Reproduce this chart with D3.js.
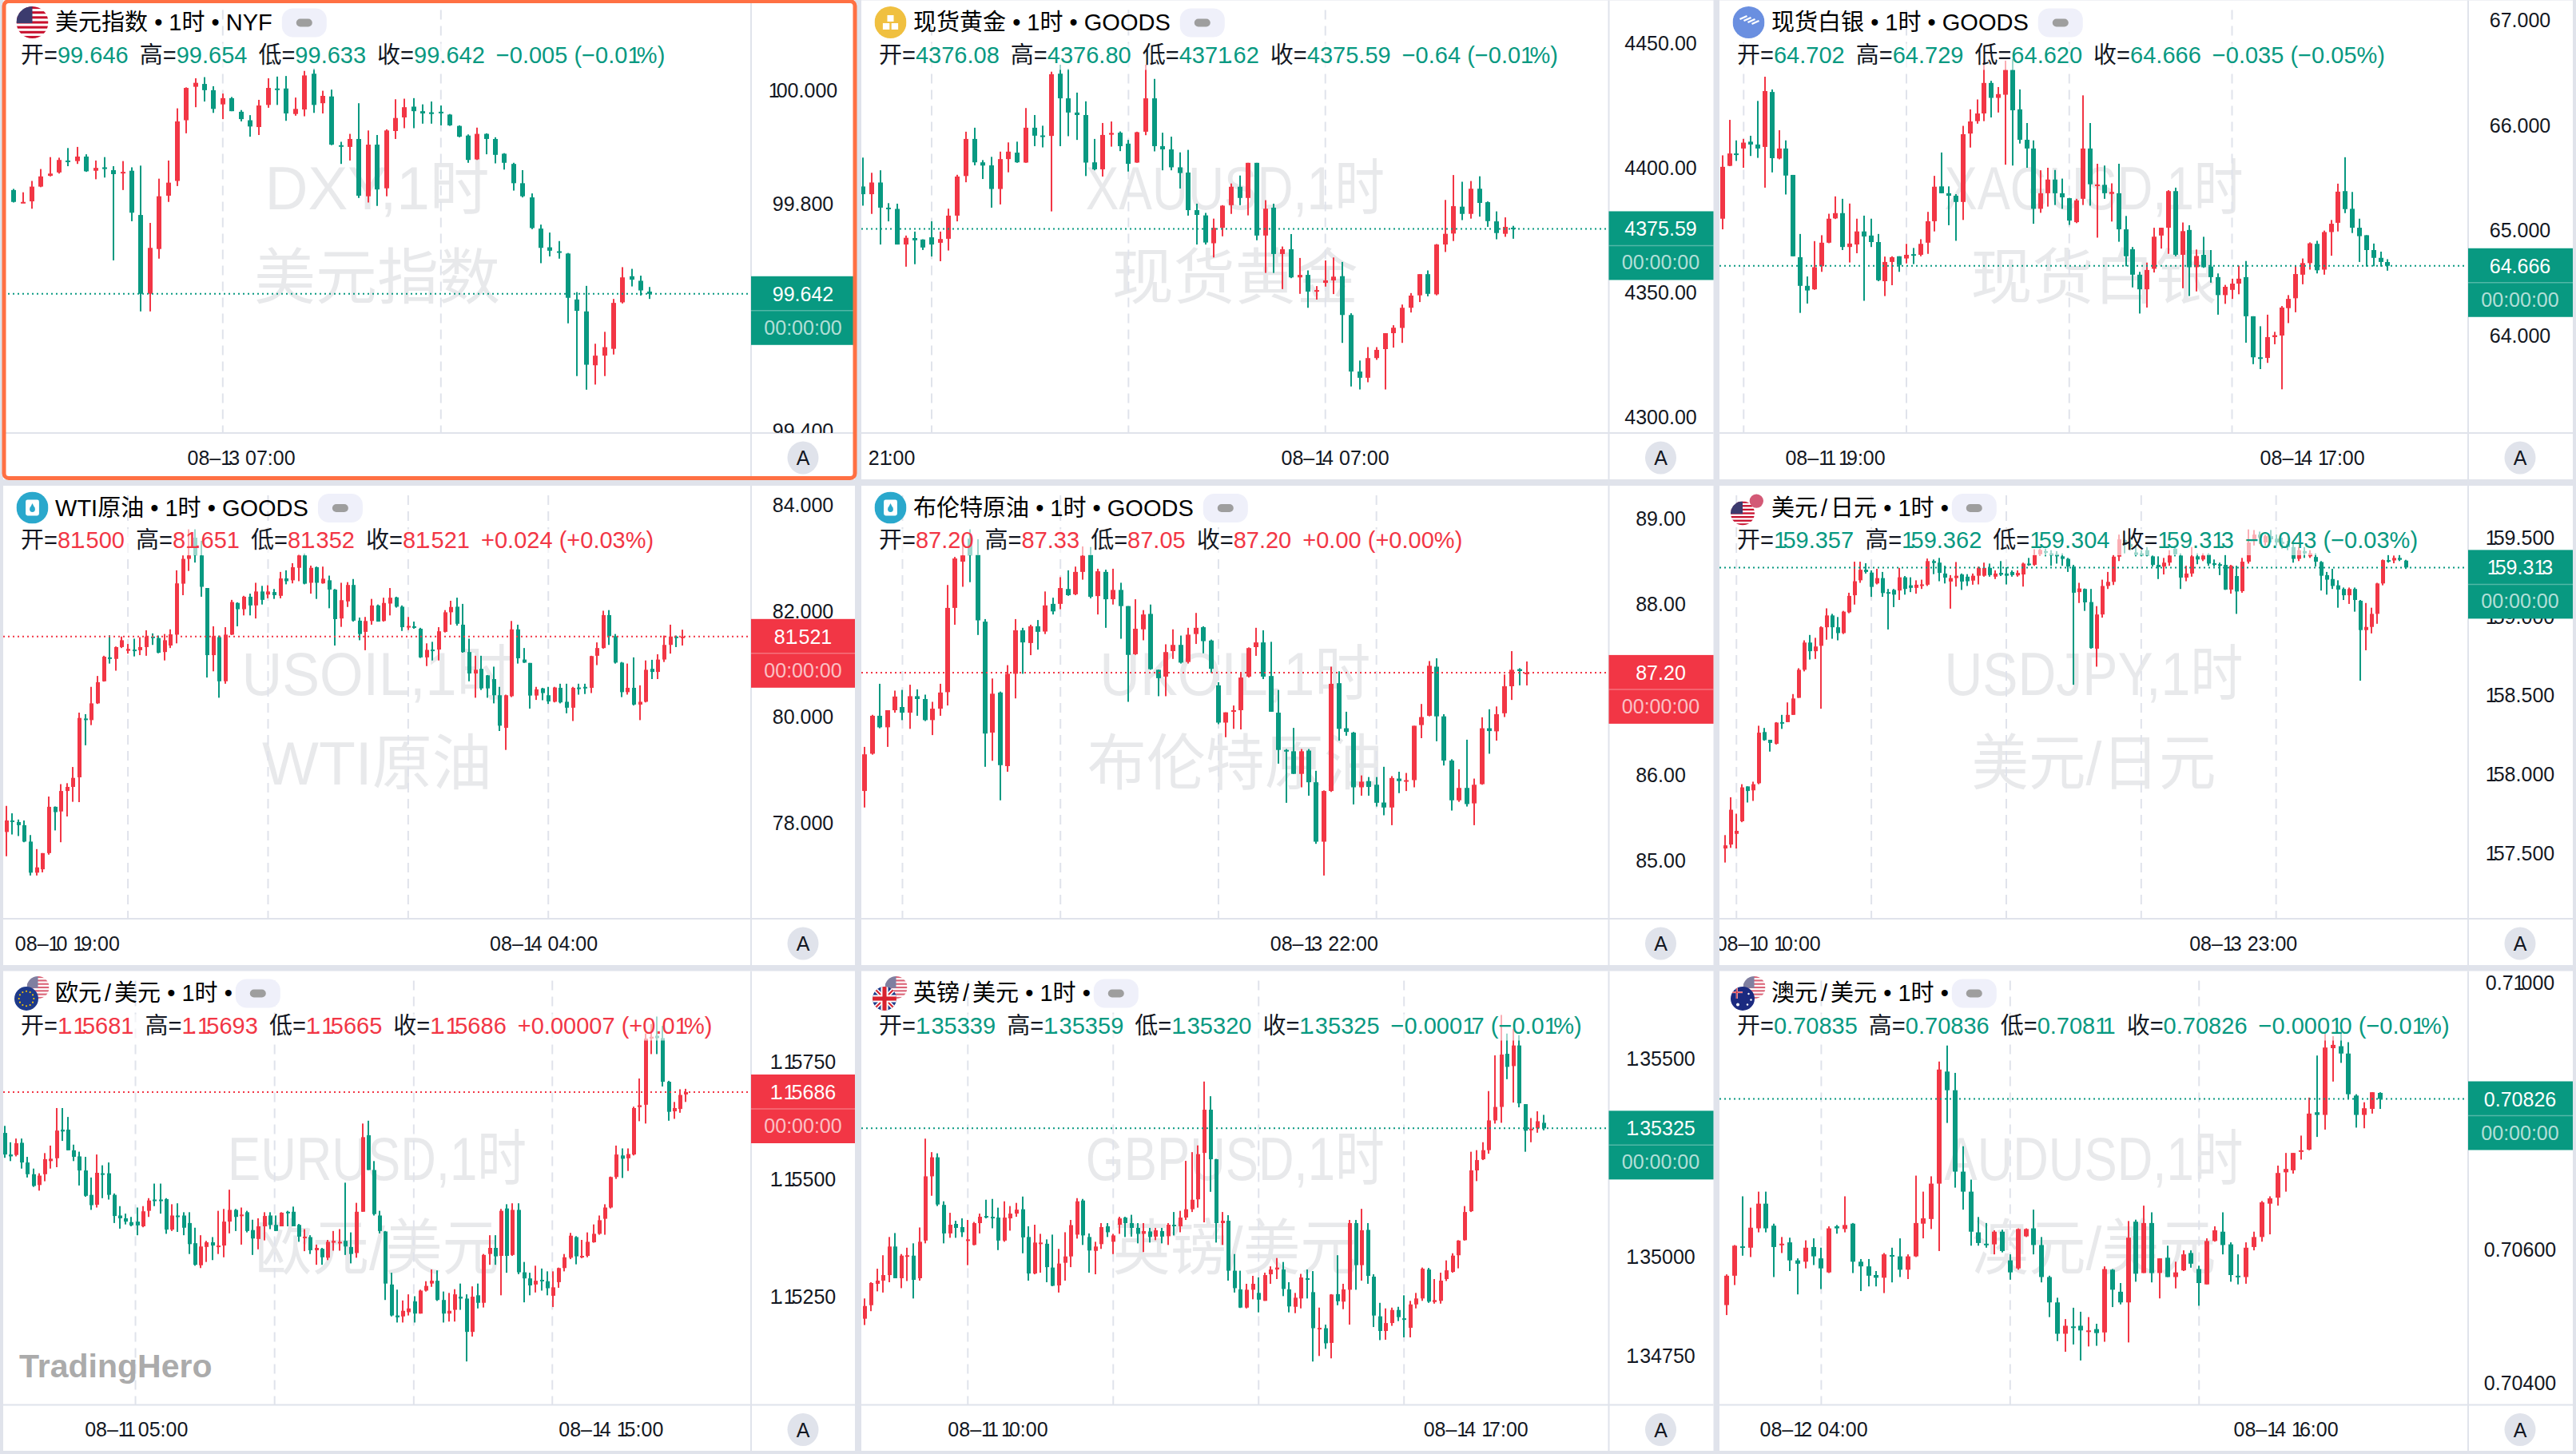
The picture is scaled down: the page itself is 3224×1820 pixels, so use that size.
<!DOCTYPE html>
<html>
<head>
<meta charset="utf-8">
<script src="https://cdn.jsdelivr.net/npm/d3@7/dist/d3.min.js"></script>
<style>
html,body{margin:0;padding:0;background:#e0e3eb;}
svg{display:block;}
text{font-family:"Liberation Sans","Noto Sans CJK SC",sans-serif;}
</style>
</head>
<body>
<script>
// rows are [open, high, low, close], oldest first
var dxyOhlc = [[99.825,99.827,99.803,99.804],[99.802,99.821,99.802,99.804],[99.805,99.841,99.792,99.831],[99.831,99.862,99.830,99.849],[99.850,99.883,99.849,99.854],[99.856,99.882,99.854,99.878],[99.877,99.899,99.867,99.875],[99.876,99.901,99.871,99.884],[99.884,99.888,99.857,99.858],[99.859,99.877,99.844,99.864],[99.865,99.883,99.847,99.862],[99.860,99.867,99.701,99.853],[99.855,99.876,99.825,99.857],[99.859,99.865,99.770,99.785],[99.781,99.868,99.611,99.642],[99.642,99.767,99.611,99.723],[99.721,99.845,99.704,99.814],[99.815,99.877,99.804,99.838],[99.841,99.969,99.832,99.946],[99.948,100.006,99.925,100.005],[100.007,100.022,99.971,100.014],[100.012,100.024,99.981,100.001],[100.001,100.008,99.961,99.968],[99.976,99.995,99.950,99.987],[99.987,99.989,99.964,99.964],[99.963,99.966,99.946,99.950],[99.948,99.957,99.919,99.937],[99.936,99.984,99.922,99.974],[99.975,100.022,99.970,100.005],[100.004,100.025,99.975,100.002],[100.004,100.026,99.947,99.960],[99.959,99.988,99.956,99.968],[99.967,100.035,99.955,100.027],[100.030,100.039,99.961,99.975],[99.978,100.000,99.960,99.991],[99.990,100.002,99.904,99.905],[99.904,99.910,99.871,99.902],[99.901,99.924,99.877,99.915],[99.915,99.978,99.811,99.815],[99.814,99.930,99.803,99.905],[99.905,99.922,99.797,99.826],[99.828,99.932,99.814,99.930],[99.929,99.985,99.915,99.952],[99.953,99.986,99.934,99.971],[99.972,99.987,99.934,99.964],[99.964,99.976,99.942,99.960],[99.962,99.981,99.942,99.959],[99.963,99.974,99.939,99.961],[99.958,99.959,99.938,99.939],[99.938,99.939,99.918,99.919],[99.921,99.923,99.873,99.878],[99.879,99.935,99.878,99.924],[99.924,99.925,99.888,99.915],[99.915,99.918,99.872,99.887],[99.889,99.890,99.861,99.873],[99.871,99.873,99.824,99.837],[99.837,99.860,99.812,99.814],[99.812,99.819,99.756,99.758],[99.757,99.764,99.696,99.723],[99.724,99.750,99.708,99.718],[99.717,99.735,99.704,99.716],[99.713,99.714,99.590,99.635],[99.632,99.645,99.497,99.612],[99.611,99.656,99.473,99.517],[99.516,99.554,99.482,99.533],[99.533,99.575,99.497,99.548],[99.545,99.633,99.535,99.626],[99.627,99.689,99.625,99.671],[99.673,99.686,99.655,99.667],[99.665,99.674,99.639,99.648],[99.646,99.654,99.633,99.642]];

var xauOhlc = [[4392.6,4404.2,4384.9,4389.5],[4389.5,4398.1,4381.6,4394.2],[4394.2,4399.1,4369.3,4384.1],[4384.1,4385.9,4378.6,4383.6],[4383.6,4385.7,4369.3,4369.3],[4369.3,4372.9,4360.4,4372.0],[4371.9,4374.5,4361.4,4371.0],[4371.3,4371.4,4367.1,4368.1],[4372.2,4378.6,4364.5,4369.3],[4370.0,4374.5,4362.6,4371.5],[4371.6,4383.7,4366.9,4380.9],[4380.9,4397.3,4378.6,4396.6],[4396.8,4414.6,4394.3,4411.7],[4411.7,4416.2,4401.1,4402.3],[4402.3,4403.2,4395.6,4401.0],[4401.1,4404.5,4384.1,4391.6],[4391.6,4406.6,4385.4,4403.6],[4403.6,4410.3,4398.3,4406.6],[4406.2,4410.6,4402.1,4402.3],[4402.2,4424.1,4402.1,4416.2],[4416.2,4421.3,4408.8,4413.0],[4413.1,4417.0,4408.3,4412.6],[4412.9,4438.7,4382.6,4437.7],[4437.9,4441.5,4408.8,4428.0],[4428.0,4439.8,4412.8,4422.3],[4422.3,4430.3,4411.3,4421.3],[4421.3,4426.8,4396.8,4402.2],[4402.3,4411.7,4399.1,4399.5],[4399.5,4418.1,4396.6,4413.3],[4413.4,4418.7,4408.6,4414.1],[4414.2,4414.7,4406.8,4408.8],[4409.8,4411.3,4398.6,4401.7],[4402.2,4414.6,4402.1,4414.4],[4414.6,4441.5,4413.2,4428.0],[4428.0,4435.8,4406.7,4408.8],[4408.8,4414.2,4399.1,4407.5],[4407.5,4412.6,4399.1,4400.3],[4400.3,4406.3,4391.8,4398.0],[4398.2,4407.3,4380.9,4383.1],[4383.1,4385.7,4369.3,4381.2],[4381.0,4382.0,4369.3,4370.1],[4369.8,4379.7,4364.1,4376.0],[4376.0,4385.1,4372.6,4384.9],[4385.1,4393.8,4381.6,4392.5],[4392.5,4397.0,4385.1,4388.0],[4388.0,4402.1,4381.0,4402.1],[4402.1,4402.1,4371.0,4372.9],[4372.9,4387.1,4357.9,4383.7],[4384.1,4385.7,4357.9,4365.5],[4365.5,4368.5,4351.4,4367.4],[4367.4,4373.5,4355.8,4356.1],[4356.1,4363.9,4349.5,4357.1],[4357.1,4358.9,4343.9,4350.4],[4350.4,4352.6,4347.2,4351.0],[4353.9,4362.9,4352.4,4354.9],[4354.9,4364.1,4349.4,4356.4],[4356.6,4362.3,4329.8,4341.0],[4341.0,4341.7,4312.3,4318.3],[4318.3,4322.7,4311.1,4315.8],[4315.8,4328.1,4314.0,4323.7],[4323.7,4328.1,4323.0,4327.0],[4327.3,4333.7,4311.1,4333.7],[4333.7,4336.9,4327.9,4335.9],[4335.8,4345.2,4329.8,4343.9],[4343.9,4349.8,4342.0,4348.8],[4348.9,4357.4,4346.2,4357.4],[4357.4,4358.9,4348.5,4349.5],[4349.3,4369.5,4348.9,4369.3],[4369.3,4387.2,4366.3,4373.6],[4373.7,4397.2,4370.7,4384.7],[4384.5,4394.5,4379.1,4381.6],[4381.6,4394.8,4379.7,4391.7],[4391.7,4396.7,4380.5,4386.0],[4386.3,4386.6,4376.4,4378.7],[4378.6,4382.6,4371.4,4373.9],[4373.6,4380.2,4372.4,4376.4],[4376.08,4376.80,4371.62,4375.59]];

var xagOhlc = [[65.114,65.716,65.013,65.607],[65.616,66.053,65.613,65.734],[65.734,65.858,65.663,65.725],[65.781,65.872,65.598,65.837],[65.846,65.902,65.710,65.819],[65.819,66.233,65.692,65.781],[65.796,66.463,65.409,66.327],[66.318,66.342,65.554,65.689],[65.686,65.955,65.678,65.781],[65.781,65.858,65.344,65.524],[65.530,65.530,64.757,64.757],[64.748,64.969,64.219,64.476],[64.476,64.565,64.308,64.432],[64.443,64.901,64.438,64.653],[64.662,64.957,64.609,64.886],[64.886,65.161,64.881,65.114],[65.117,65.326,65.111,65.167],[65.167,65.303,64.816,64.845],[64.845,65.258,64.698,64.878],[64.869,65.114,64.786,64.993],[64.993,65.143,64.334,64.945],[64.954,65.114,64.845,64.892],[64.892,64.969,64.520,64.529],[64.520,64.754,64.379,64.703],[64.703,64.757,64.482,64.748],[64.757,64.757,64.609,64.674],[64.736,64.875,64.689,64.771],[64.777,64.836,64.683,64.765],[64.771,64.919,64.757,64.875],[64.886,65.179,64.780,65.090],[65.090,65.521,64.993,65.418],[65.421,65.743,65.356,65.356],[65.356,65.421,65.052,65.332],[65.332,65.347,64.904,65.273],[65.273,65.996,65.102,65.917],[65.923,66.153,65.790,66.038],[66.041,66.247,66.017,66.114],[66.114,66.616,66.041,66.404],[66.404,66.424,66.076,66.262],[66.262,66.365,66.123,66.298],[66.292,66.616,65.627,66.528],[66.528,66.631,65.619,66.144],[66.153,66.342,65.828,65.864],[65.864,66.023,65.598,65.781],[65.781,65.858,65.066,65.208],[65.208,65.574,65.170,65.356],[65.356,65.598,65.229,65.486],[65.486,65.577,65.244,65.356],[65.356,65.495,65.208,65.317],[65.309,65.312,65.055,65.096],[65.081,65.303,65.072,65.288],[65.303,66.286,65.244,65.781],[65.781,66.023,65.238,65.441],[65.427,65.636,64.934,65.439],[65.436,65.619,65.303,65.356],[65.350,65.450,65.087,65.368],[65.356,65.636,64.895,65.013],[65.013,65.140,64.662,64.757],[64.824,64.845,64.461,64.582],[64.582,64.609,64.213,64.443],[64.443,64.697,64.270,64.627],[64.638,65.028,64.603,64.943],[64.954,65.028,64.830,65.028],[65.028,65.385,64.780,65.376],[65.376,65.409,64.757,64.771],[64.771,65.078,64.453,64.996],[65.007,65.052,64.379,64.653],[64.653,64.821,64.423,64.760],[64.771,64.942,64.647,64.653],[64.659,64.816,64.506,64.559],[64.559,64.594,64.202,64.388],[64.388,64.485,64.305,64.467],[64.438,64.544,64.352,64.497],[64.497,64.668,64.396,64.544],[64.559,64.712,63.936,64.187],[64.187,64.187,63.732,63.797],[63.797,64.092,63.685,63.785],[63.791,64.202,63.744,63.989],[63.989,64.039,63.921,64.007],[64.004,64.284,63.493,64.270],[64.264,64.388,64.122,64.352],[64.358,64.668,64.225,64.588],[64.582,64.736,64.491,64.692],[64.692,64.889,64.630,64.880],[64.875,64.904,64.594,64.624],[64.630,65.001,64.582,64.987],[64.987,65.102,64.762,65.066],[65.075,65.447,64.993,65.371],[65.376,65.698,65.167,65.205],[65.208,65.368,64.978,65.028],[65.028,65.114,64.703,64.948],[64.957,64.957,64.659,64.816],[64.816,64.878,64.662,64.742],[64.742,64.801,64.659,64.703],[64.702,64.729,64.620,64.666]];

var wtiOhlc = [[77.837,78.329,77.380,78.054],[78.054,78.189,77.790,78.036],[78.025,78.072,77.761,77.966],[77.966,78.054,77.644,77.656],[77.656,77.779,77.017,77.070],[77.070,77.515,77.017,77.170],[77.134,77.439,77.076,77.439],[77.439,78.505,77.410,78.312],[78.312,78.318,77.867,78.212],[78.224,78.739,77.644,78.610],[78.610,78.757,78.130,78.687],[78.687,79.062,78.406,78.857],[78.868,80.087,78.400,79.987],[79.976,80.058,79.472,79.958],[79.946,80.573,79.852,80.262],[80.262,80.778,80.251,80.661],[80.678,81.159,80.672,81.141],[81.129,81.545,81.012,81.100],[81.100,81.334,80.878,81.323],[81.323,81.522,81.305,81.452],[81.252,81.381,81.200,81.288],[81.276,81.481,81.147,81.258],[81.264,81.510,81.171,81.323],[81.323,81.639,81.159,81.522],[81.522,81.581,81.364,81.499],[81.493,81.540,81.206,81.217],[81.229,81.569,81.071,81.452],[81.352,81.657,81.305,81.563],[81.557,82.770,81.393,82.524],[82.518,83.051,82.301,82.986],[82.986,83.543,82.758,83.051],[83.385,83.543,82.916,83.051],[83.051,83.326,82.272,82.459],[82.436,82.436,80.749,81.171],[81.171,81.715,80.866,81.528],[81.510,81.540,80.368,80.678],[80.678,81.698,80.632,81.557],[81.557,82.213,81.551,82.172],[82.155,82.166,81.715,82.037],[82.037,82.289,81.920,82.272],[82.272,82.330,81.920,82.108],[82.108,82.535,81.862,82.371],[82.371,82.477,82.125,82.213],[82.313,82.489,82.242,82.371],[82.360,82.418,82.231,82.301],[82.289,82.740,82.242,82.617],[82.617,82.770,82.506,82.565],[82.582,82.904,82.524,82.828],[82.817,83.074,82.565,83.051],[83.051,83.086,82.506,82.518],[82.535,82.858,82.330,82.817],[82.828,82.840,82.231,82.535],[82.524,82.840,82.518,82.612],[82.582,82.670,82.055,82.407],[82.407,82.418,81.352,81.850],[81.862,82.535,81.704,82.207],[82.184,82.547,82.079,82.494],[82.494,82.606,81.803,81.821],[81.821,81.879,81.452,81.569],[81.610,81.891,81.264,81.815],[81.815,82.231,81.745,82.108],[82.108,82.125,81.803,81.803],[81.815,82.254,81.803,82.155],[82.143,82.436,81.920,82.254],[82.260,82.272,82.067,82.084],[82.084,82.108,81.627,81.698],[81.698,81.891,81.645,81.721],[81.715,81.803,81.668,81.692],[81.668,81.686,81.118,81.129],[81.129,81.393,80.965,81.270],[81.276,81.422,81.071,81.246],[81.276,81.698,81.071,81.621],[81.610,82.020,81.598,81.979],[81.979,82.196,81.745,82.079],[82.084,82.254,81.727,81.762],[81.745,82.137,81.217,81.229],[81.229,81.481,80.678,80.825],[80.825,81.159,80.368,80.895],[80.913,81.159,80.514,80.544],[80.790,80.796,80.368,80.544],[80.720,80.954,80.262,80.415],[80.415,80.573,79.741,79.841],[79.800,80.426,79.384,80.415],[80.397,81.815,80.380,81.657],[81.657,81.745,81.012,81.112],[81.088,81.305,81.024,81.030],[81.024,81.024,80.163,80.409],[80.409,80.573,80.327,80.526],[80.544,80.555,80.321,80.456],[80.415,80.573,80.251,80.298],[80.292,80.573,80.280,80.561],[80.555,80.632,80.262,80.280],[80.292,80.632,80.075,80.180],[80.180,80.573,79.929,80.555],[80.561,80.632,80.426,80.532],[80.573,80.632,80.438,80.544],[80.555,81.159,80.456,81.153],[81.159,81.411,80.983,81.305],[81.305,82.008,81.293,81.926],[81.926,82.020,81.364,81.528],[81.528,81.569,81.012,81.030],[81.030,81.042,80.380,80.473],[80.473,81.012,80.427,80.555],[80.555,81.129,80.222,80.239],[80.239,80.602,79.946,80.292],[80.292,81.071,80.280,80.895],[80.913,81.083,80.720,80.854],[80.854,81.188,80.720,81.088],[81.088,81.540,81.042,81.364],[81.364,81.745,81.200,81.522],[81.522,81.540,81.323,81.493],[81.500,81.651,81.352,81.521]];

var brentOhlc = [[85.815,86.331,85.622,86.244],[86.251,86.706,86.240,86.695],[86.695,87.069,86.549,86.560],[86.560,86.760,86.331,86.760],[86.760,86.989,86.731,86.920],[86.797,86.997,86.644,86.731],[86.731,87.058,86.542,86.924],[86.924,87.004,86.695,86.891],[86.891,86.942,86.633,86.644],[86.644,86.858,86.469,86.778],[86.778,87.069,86.695,86.967],[86.971,88.225,86.815,87.957],[87.957,88.553,87.760,88.535],[88.498,88.778,88.204,88.571],[88.767,88.876,88.258,88.571],[88.578,88.760,87.640,87.811],[87.796,87.826,86.098,86.487],[86.498,87.131,86.168,86.953],[86.967,86.978,85.706,86.117],[86.106,87.287,86.040,87.186],[87.186,87.826,86.898,87.695],[87.695,87.724,87.186,87.553],[87.546,87.760,87.404,87.742],[87.742,87.815,87.469,87.677],[87.680,88.149,87.651,87.986],[88.004,88.076,87.880,87.916],[88.004,88.316,87.942,88.189],[88.178,88.396,88.098,88.106],[88.116,88.440,88.106,88.378],[88.378,88.676,88.287,88.567],[88.578,88.669,88.069,88.087],[88.095,88.415,87.880,88.385],[88.378,88.404,87.724,88.058],[88.058,88.415,87.996,88.167],[88.167,88.251,87.596,87.978],[87.978,87.978,86.858,87.407],[87.415,88.058,87.407,87.713],[87.706,87.931,87.578,87.880],[87.887,87.996,87.233,87.240],[87.233,87.233,86.924,87.135],[87.153,87.531,86.924,87.440],[87.451,87.706,87.360,87.524],[87.524,87.633,87.306,87.317],[87.324,87.724,87.306,87.644],[87.651,87.898,87.535,87.724],[87.731,87.742,87.426,87.568],[87.575,87.586,87.196,87.244],[87.051,87.087,86.597,86.615],[86.615,86.735,86.444,86.735],[86.742,86.815,86.542,86.760],[86.760,87.196,86.535,87.142],[87.153,87.495,87.142,87.487],[87.498,87.724,87.396,87.553],[87.553,87.695,87.124,87.153],[87.160,87.560,86.742,86.742],[86.731,86.997,86.135,86.295],[86.295,86.306,85.677,86.280],[86.280,86.553,86.015,86.015],[86.015,86.306,85.858,86.280],[86.288,86.306,85.760,85.917],[85.917,86.051,85.197,85.222],[85.222,85.822,84.826,85.815],[85.815,87.269,85.804,87.069],[87.076,87.215,86.404,86.542],[86.549,86.742,86.462,86.506],[86.498,86.506,85.658,85.858],[85.858,85.997,85.760,85.924],[85.931,85.978,85.760,85.862],[85.888,85.978,85.633,85.677],[85.680,86.098,85.531,85.622],[85.622,85.989,85.415,85.967],[85.960,86.040,85.790,85.931],[85.924,86.026,85.815,85.942],[85.942,86.578,85.858,86.578],[86.586,86.833,86.433,86.680],[86.695,87.335,86.688,87.280],[87.269,87.367,86.397,86.688],[86.688,86.713,86.113,86.171],[86.171,86.186,85.586,85.706],[85.706,86.069,85.688,85.851],[85.851,86.415,85.633,85.662],[85.670,85.960,85.415,85.888],[85.895,86.677,85.888,86.549],[86.549,86.771,86.251,86.516],[86.513,86.804,86.404,86.713],[86.724,87.178,86.680,87.040],[87.040,87.451,86.880,87.233],[87.240,87.251,87.051,87.218],[87.20,87.33,87.05,87.20]];

var jpyOhlc = [[157.530,157.615,157.441,157.550],[157.555,157.855,157.534,157.776],[157.623,157.751,157.530,157.642],[157.703,157.938,157.697,157.918],[157.924,157.924,157.822,157.895],[157.899,157.954,157.832,157.938],[157.944,158.309,157.938,158.265],[158.269,158.295,158.214,158.218],[158.220,158.220,158.145,158.200],[158.194,158.332,158.190,158.329],[158.332,158.378,158.289,158.325],[158.332,158.457,158.332,158.378],[158.378,158.510,158.378,158.482],[158.486,158.674,158.486,158.664],[158.664,158.851,158.654,158.837],[158.837,158.885,158.729,158.782],[158.782,158.867,158.733,158.812],[158.816,158.940,158.417,158.934],[158.934,159.054,158.855,159.009],[159.009,159.019,158.861,158.934],[158.934,158.999,158.851,158.897],[158.897,159.038,158.891,159.033],[159.029,159.153,159.023,159.133],[159.137,159.350,159.078,159.226],[159.232,159.350,159.216,159.299],[159.299,159.340,159.275,159.285],[159.281,159.295,159.127,159.190],[159.212,159.305,159.206,159.246],[159.246,159.285,159.127,159.151],[159.157,159.177,158.920,159.147],[159.171,159.177,159.062,159.141],[159.167,159.311,159.107,159.251],[159.251,159.259,159.141,159.177],[159.200,159.251,159.157,159.184],[159.184,159.232,159.147,159.204],[159.196,159.236,159.177,159.206],[159.204,159.370,159.196,159.354],[159.354,159.364,159.271,159.342],[159.344,159.374,159.226,159.279],[159.275,159.324,159.212,159.249],[159.224,159.265,159.052,159.246],[159.246,159.348,159.192,159.261],[159.269,159.275,159.171,159.224],[159.255,159.271,159.196,159.226],[159.230,159.275,159.204,159.261],[159.261,159.319,159.206,159.311],[159.261,159.344,159.255,159.311],[159.311,159.338,159.255,159.265],[159.255,159.295,159.240,159.275],[159.279,159.354,159.259,159.267],[159.275,159.315,159.206,159.261],[159.285,159.295,159.255,159.265],[159.263,159.295,159.255,159.279],[159.269,159.344,159.192,159.338],[159.338,159.374,159.324,159.330],[159.330,159.429,159.324,159.393],[159.397,159.433,159.389,159.425],[159.417,159.433,159.384,159.409],[159.403,159.423,159.324,159.389],[159.399,159.417,159.338,159.384],[159.384,159.403,159.324,159.368],[159.368,159.374,159.285,159.319],[159.319,159.330,158.569,159.153],[159.157,159.216,159.088,159.180],[159.177,159.180,159.038,159.092],[159.094,159.177,158.798,158.802],[158.798,159.068,158.684,159.015],[159.015,159.236,158.995,159.196],[159.196,159.285,159.177,159.222],[159.222,159.393,159.202,159.382],[159.382,159.522,159.354,159.492],[159.488,159.492,159.403,159.456],[159.463,159.522,159.423,159.443],[159.409,159.443,159.384,159.393],[159.403,159.423,159.384,159.389],[159.423,159.443,159.384,159.389],[159.384,159.389,159.319,159.330],[159.330,159.384,159.240,159.315],[159.319,159.374,159.269,159.344],[159.344,159.423,159.324,159.389],[159.433,159.453,159.384,159.397],[159.389,159.403,159.177,159.249],[159.249,159.324,159.226,159.275],[159.275,159.443,159.255,159.384],[159.384,159.403,159.334,159.364],[159.364,159.403,159.354,159.389],[159.397,159.403,159.324,159.338],[159.340,159.364,159.319,159.330],[159.334,159.344,159.265,159.324],[159.330,159.393,159.171,159.173],[159.173,159.330,159.147,159.324],[159.259,159.324,159.019,159.161],[159.163,159.374,159.153,159.350],[159.350,159.555,159.338,159.472],[159.482,159.551,159.453,159.522],[159.522,159.541,159.463,159.502],[159.472,159.522,159.453,159.512],[159.512,159.551,159.472,159.492],[159.496,159.522,159.453,159.472],[159.476,159.502,159.433,159.463],[159.463,159.482,159.423,159.443],[159.443,159.463,159.344,159.368],[159.368,159.443,159.354,159.423],[159.417,159.443,159.374,159.403],[159.384,159.423,159.374,159.403],[159.380,159.403,159.319,159.350],[159.348,159.354,159.167,159.261],[159.265,159.285,159.141,159.236],[159.240,159.305,159.177,159.196],[159.200,159.232,159.058,159.173],[159.177,159.186,159.107,159.137],[159.137,159.186,159.082,159.177],[159.177,159.186,159.033,159.107],[159.102,159.107,158.595,158.916],[158.916,159.088,158.788,158.936],[158.936,159.058,158.895,159.019],[159.019,159.216,158.956,159.212],[159.212,159.364,159.200,159.360],[159.360,159.393,159.344,159.350],[159.358,159.389,159.340,159.374],[159.374,159.393,159.354,159.362],[159.357,159.362,159.304,159.313]];

var eurOhlc = [[1.15599,1.15614,1.15546,1.15553],[1.15553,1.15579,1.15539,1.15549],[1.15552,1.15587,1.15549,1.15577],[1.15578,1.15587,1.15523,1.15536],[1.15536,1.15548,1.15504,1.15511],[1.15511,1.15523,1.15484,1.15486],[1.15488,1.15513,1.15476,1.15508],[1.15511,1.15556,1.15496,1.15543],[1.15539,1.15572,1.15523,1.15544],[1.15545,1.15652,1.15526,1.15604],[1.15606,1.15652,1.15582,1.15602],[1.15606,1.15633,1.15562,1.15562],[1.15562,1.15574,1.15539,1.15548],[1.15549,1.15559,1.15487,1.15519],[1.15519,1.15548,1.15463,1.15465],[1.15467,1.15504,1.15435,1.15445],[1.15446,1.15553,1.15440,1.15514],[1.15513,1.15530,1.15460,1.15511],[1.15513,1.15536,1.15457,1.15467],[1.15467,1.15470,1.15407,1.15422],[1.15423,1.15443,1.15395,1.15417],[1.15417,1.15427,1.15404,1.15410],[1.15409,1.15420,1.15400,1.15402],[1.15410,1.15440,1.15381,1.15402],[1.15400,1.15443,1.15398,1.15432],[1.15433,1.15460,1.15420,1.15455],[1.15457,1.15491,1.15443,1.15455],[1.15457,1.15491,1.15427,1.15454],[1.15458,1.15460,1.15384,1.15393],[1.15393,1.15447,1.15390,1.15423],[1.15423,1.15449,1.15388,1.15421],[1.15423,1.15430,1.15381,1.15397],[1.15407,1.15430,1.15341,1.15362],[1.15364,1.15397,1.15316,1.15318],[1.15317,1.15381,1.15311,1.15357],[1.15356,1.15369,1.15324,1.15366],[1.15366,1.15377,1.15328,1.15359],[1.15356,1.15433,1.15341,1.15359],[1.15359,1.15437,1.15334,1.15410],[1.15410,1.15478,1.15385,1.15435],[1.15435,1.15437,1.15390,1.15420],[1.15422,1.15440,1.15361,1.15425],[1.15430,1.15433,1.15387,1.15390],[1.15392,1.15414,1.15339,1.15374],[1.15373,1.15417,1.15351,1.15400],[1.15400,1.15430,1.15370,1.15422],[1.15423,1.15430,1.15394,1.15403],[1.15403,1.15423,1.15390,1.15390],[1.15400,1.15430,1.15400,1.15429],[1.15431,1.15433,1.15400,1.15428],[1.15431,1.15442,1.15400,1.15400],[1.15403,1.15405,1.15367,1.15378],[1.15376,1.15394,1.15347,1.15378],[1.15377,1.15381,1.15341,1.15349],[1.15349,1.15361,1.15318,1.15354],[1.15352,1.15354,1.15318,1.15334],[1.15333,1.15371,1.15328,1.15367],[1.15365,1.15390,1.15348,1.15369],[1.15364,1.15394,1.15348,1.15367],[1.15369,1.15493,1.15339,1.15357],[1.15356,1.15387,1.15321,1.15341],[1.15343,1.15450,1.15333,1.15431],[1.15431,1.15619,1.15431,1.15590],[1.15594,1.15625,1.15520,1.15520],[1.15520,1.15539,1.15423,1.15426],[1.15423,1.15433,1.15385,1.15390],[1.15389,1.15390,1.15243,1.15278],[1.15276,1.15301,1.15208,1.15210],[1.15210,1.15265,1.15195,1.15206],[1.15208,1.15242,1.15195,1.15220],[1.15217,1.15255,1.15210,1.15225],[1.15240,1.15251,1.15195,1.15214],[1.15214,1.15265,1.15214,1.15263],[1.15263,1.15283,1.15261,1.15273],[1.15278,1.15308,1.15271,1.15284],[1.15284,1.15306,1.15241,1.15243],[1.15243,1.15261,1.15195,1.15214],[1.15214,1.15258,1.15197,1.15220],[1.15222,1.15266,1.15197,1.15255],[1.15250,1.15278,1.15222,1.15246],[1.15246,1.15255,1.15112,1.15175],[1.15175,1.15272,1.15165,1.15250],[1.15253,1.15278,1.15225,1.15237],[1.15237,1.15341,1.15227,1.15339],[1.15341,1.15381,1.15318,1.15354],[1.15354,1.15381,1.15318,1.15336],[1.15337,1.15437,1.15253,1.15433],[1.15438,1.15447,1.15301,1.15337],[1.15339,1.15449,1.15337,1.15435],[1.15435,1.15449,1.15298,1.15302],[1.15302,1.15324,1.15238,1.15289],[1.15289,1.15301,1.15253,1.15274],[1.15276,1.15316,1.15259,1.15284],[1.15286,1.15310,1.15263,1.15283],[1.15283,1.15304,1.15253,1.15268],[1.15252,1.15304,1.15228,1.15270],[1.15281,1.15312,1.15269,1.15311],[1.15311,1.15341,1.15304,1.15334],[1.15333,1.15386,1.15330,1.15380],[1.15377,1.15379,1.15319,1.15336],[1.15334,1.15371,1.15332,1.15337],[1.15337,1.15387,1.15334,1.15367],[1.15366,1.15404,1.15365,1.15384],[1.15384,1.15423,1.15382,1.15413],[1.15416,1.15447,1.15382,1.15440],[1.15440,1.15506,1.15438,1.15505],[1.15505,1.15572,1.15501,1.15553],[1.15551,1.15566,1.15503,1.15544],[1.15545,1.15566,1.15518,1.15554],[1.15553,1.15655,1.15551,1.15652],[1.15654,1.15715,1.15624,1.15658],[1.15659,1.15811,1.15619,1.15800],[1.15800,1.15831,1.15767,1.15804],[1.15806,1.15847,1.15767,1.15801],[1.15801,1.15827,1.15698,1.15708],[1.15708,1.15710,1.15625,1.15644],[1.15645,1.15665,1.15629,1.15652],[1.15650,1.15692,1.15642,1.15680],[1.15681,1.15693,1.15665,1.15686]];

var gbpOhlc = [[1.34845,1.34896,1.34829,1.34877],[1.34879,1.34937,1.34864,1.34935],[1.34933,1.34971,1.34914,1.34941],[1.34941,1.35005,1.34911,1.34955],[1.34955,1.35051,1.34937,1.35027],[1.35027,1.35061,1.34947,1.34947],[1.34947,1.35008,1.34922,1.35004],[1.35002,1.35024,1.34940,1.35005],[1.35004,1.35035,1.34896,1.34943],[1.34947,1.35075,1.34941,1.35039],[1.35042,1.35299,1.35035,1.35204],[1.35204,1.35265,1.35155,1.35252],[1.35252,1.35262,1.35129,1.35133],[1.35132,1.35141,1.35035,1.35060],[1.35060,1.35112,1.35049,1.35082],[1.35084,1.35092,1.35049,1.35074],[1.35076,1.35098,1.35051,1.35063],[1.35042,1.35094,1.34980,1.35045],[1.35031,1.35089,1.35030,1.35086],[1.35086,1.35110,1.35060,1.35102],[1.35104,1.35145,1.35098,1.35100],[1.35102,1.35147,1.35073,1.35098],[1.35100,1.35125,1.35018,1.35042],[1.35042,1.35141,1.35039,1.35100],[1.35098,1.35129,1.35067,1.35110],[1.35110,1.35137,1.35102,1.35120],[1.35121,1.35153,1.35010,1.35050],[1.35051,1.35078,1.34941,1.34959],[1.34959,1.35082,1.34957,1.35037],[1.35033,1.35059,1.34961,1.35037],[1.35034,1.35045,1.34937,1.34975],[1.34974,1.35057,1.34927,1.34928],[1.34929,1.35021,1.34911,1.34984],[1.34986,1.35063,1.34941,1.35002],[1.35002,1.35094,1.34975,1.35081],[1.35057,1.35149,1.35047,1.35141],[1.35143,1.35147,1.35031,1.35055],[1.35051,1.35060,1.34961,1.35017],[1.35016,1.35039,1.34957,1.35027],[1.35033,1.35086,1.35021,1.35076],[1.35078,1.35086,1.35051,1.35063],[1.35039,1.35059,1.35008,1.35055],[1.35082,1.35102,1.35059,1.35098],[1.35100,1.35102,1.35051,1.35086],[1.35086,1.35107,1.35052,1.35074],[1.35074,1.35086,1.35035,1.35059],[1.35059,1.35086,1.35013,1.35066],[1.35065,1.35074,1.35037,1.35051],[1.35052,1.35074,1.35043,1.35068],[1.35066,1.35074,1.35035,1.35052],[1.35053,1.35086,1.35031,1.35082],[1.35082,1.35114,1.35055,1.35078],[1.35078,1.35117,1.35063,1.35100],[1.35100,1.35243,1.35094,1.35121],[1.35121,1.35265,1.35114,1.35145],[1.35146,1.35282,1.35125,1.35260],[1.35263,1.35443,1.35088,1.35372],[1.35372,1.35406,1.35165,1.35247],[1.35247,1.35248,1.35037,1.35086],[1.35086,1.35114,1.35031,1.35092],[1.35092,1.35106,1.34941,1.34966],[1.34966,1.35008,1.34911,1.34922],[1.34919,1.34966,1.34872,1.34873],[1.34873,1.34933,1.34871,1.34918],[1.34918,1.34953,1.34894,1.34933],[1.34910,1.34949,1.34861,1.34893],[1.34890,1.34961,1.34890,1.34955],[1.34957,1.34977,1.34933,1.34969],[1.34969,1.34998,1.34945,1.34974],[1.34969,1.34988,1.34902,1.34920],[1.34919,1.34937,1.34861,1.34876],[1.34875,1.34910,1.34859,1.34898],[1.34896,1.34958,1.34871,1.34949],[1.34947,1.34969,1.34896,1.34944],[1.34912,1.34965,1.34737,1.34821],[1.34819,1.34873,1.34751,1.34822],[1.34821,1.34830,1.34769,1.34783],[1.34784,1.34907,1.34745,1.34906],[1.34907,1.35005,1.34879,1.34889],[1.34888,1.34933,1.34869,1.34919],[1.34918,1.35094,1.34830,1.35086],[1.35086,1.35094,1.34918,1.34980],[1.34980,1.35122,1.34941,1.35068],[1.35069,1.35086,1.34933,1.34953],[1.34951,1.34957,1.34824,1.34853],[1.34851,1.34885,1.34791,1.34814],[1.34814,1.34871,1.34792,1.34834],[1.34834,1.34873,1.34827,1.34867],[1.34867,1.34875,1.34839,1.34849],[1.34846,1.34904,1.34798,1.34843],[1.34822,1.34890,1.34798,1.34881],[1.34881,1.34910,1.34871,1.34896],[1.34896,1.34974,1.34890,1.34971],[1.34969,1.34973,1.34885,1.34888],[1.34887,1.34945,1.34883,1.34892],[1.34890,1.34961,1.34883,1.34941],[1.34945,1.34992,1.34940,1.34967],[1.34963,1.35010,1.34961,1.35004],[1.35005,1.35043,1.34972,1.35042],[1.35043,1.35129,1.35042,1.35114],[1.35116,1.35266,1.35114,1.35219],[1.35219,1.35270,1.35192,1.35245],[1.35247,1.35290,1.35245,1.35270],[1.35270,1.35419,1.35261,1.35345],[1.35345,1.35509,1.35337,1.35379],[1.35379,1.35611,1.35339,1.35511],[1.35513,1.35564,1.35449,1.35480],[1.35482,1.35576,1.35390,1.35534],[1.35534,1.35560,1.35378,1.35388],[1.35386,1.35386,1.35266,1.35319],[1.35320,1.35351,1.35290,1.35324],[1.35325,1.35368,1.35314,1.35343],[1.35339,1.35359,1.35320,1.35325]];

var audOhlc = [[.70517,.70563,.70502,.70561],[.70561,.70607,.70547,.70606],[.70605,.70680,.70591,.70603],[.70603,.70663,.70589,.70633],[.70632,.70687,.70626,.70669],[.70669,.70687,.70626,.70632],[.70636,.70639,.70559,.70604],[.70607,.70619,.70595,.70609],[.70611,.70618,.70568,.70584],[.70584,.70587,.70533,.70579],[.70582,.70614,.70572,.70603],[.70604,.70617,.70577,.70590],[.70587,.70603,.70541,.70572],[.70566,.70635,.70565,.70632],[.70635,.70637,.70624,.70632],[.70631,.70680,.70626,.70637],[.70639,.70640,.70565,.70582],[.70582,.70586,.70538,.70575],[.70575,.70586,.70545,.70561],[.70562,.70568,.70545,.70558],[.70558,.70595,.70535,.70593],[.70592,.70603,.70551,.70590],[.70590,.70617,.70559,.70570],[.70570,.70593,.70556,.70590],[.70590,.70711,.70589,.70640],[.70639,.70687,.70617,.70647],[.70646,.70710,.70631,.70699],[.70699,.70882,.70598,.70870],[.70867,.70906,.70790,.70839],[.70839,.70865,.70693,.70717],[.70717,.70755,.70660,.70687],[.70687,.70705,.70606,.70627],[.70626,.70649,.70606,.70610],[.70609,.70640,.70603,.70608],[.70608,.70629,.70593,.70627],[.70627,.70630,.70596,.70598],[.70584,.70593,.70555,.70566],[.70572,.70632,.70570,.70631],[.70620,.70632,.70619,.70631],[.70632,.70660,.70593,.70607],[.70607,.70619,.70551,.70559],[.70559,.70561,.70499,.70521],[.70521,.70528,.70463,.70474],[.70474,.70496,.70447,.70486],[.70485,.70513,.70458,.70484],[.70486,.70507,.70434,.70479],[.70477,.70499,.70455,.70479],[.70481,.70489,.70456,.70475],[.70476,.70575,.70462,.70571],[.70570,.70571,.70514,.70540],[.70537,.70550,.70518,.70521],[.70521,.70643,.70461,.70618],[.70642,.70645,.70552,.70564],[.70565,.70666,.70565,.70640],[.70640,.70656,.70551,.70565],[.70565,.70587,.70527,.70587],[.70588,.70606,.70559,.70559],[.70559,.70582,.70542,.70566],[.70569,.70599,.70568,.70593],[.70595,.70599,.70573,.70579],[.70571,.70576,.70516,.70550],[.70548,.70617,.70548,.70613],[.70613,.70635,.70612,.70629],[.70627,.70656,.70593,.70607],[.70608,.70611,.70552,.70562],[.70561,.70593,.70548,.70559],[.70559,.70611,.70549,.70603],[.70604,.70627,.70599,.70619],[.70619,.70673,.70612,.70671],[.70669,.70680,.70623,.70677],[.70678,.70726,.70666,.70715],[.70716,.70745,.70687,.70721],[.70719,.70745,.70714,.70745],[.70747,.70771,.70735,.70749],[.70750,.70828,.70749,.70804],[.70806,.70891,.70769,.70802],[.70802,.70924,.70780,.70903],[.70902,.70920,.70852,.70907],[.70905,.70924,.70880,.70894],[.70894,.70911,.70826,.70833],[.70831,.70833,.70783,.70802],[.70802,.70821,.70782,.70812],[.70811,.70836,.70804,.70836],[.70835,.70836,.70811,.70826]];

var allOhlc = [dxyOhlc,xauOhlc,xagOhlc,wtiOhlc,brentOhlc,jpyOhlc,eurOhlc,gbpOhlc,audOhlc];

var titles = ["美元指数 • 1时 • NYF","现货黄金 • 1时 • GOODS","现货白银 • 1时 • GOODS","WTI原油 • 1时 • GOODS","布伦特原油 • 1时 • GOODS","美元/日元 • 1时 •","欧元/美元 • 1时 •","英镑/美元 • 1时 •","澳元/美元 • 1时 •"];
var marks1 = ["DXY,1时","XAUUSD,1时","XAGUSD,1时","USOIL,1时","UKOIL,1时","USDJPY,1时","EURUSD,1时","GBPUSD,1时","AUDUSD,1时"];
var marks2 = ["美元指数","现货黄金","现货白银","WTI原油","布伦特原油","美元/日元","欧元/美元","英镑/美元","澳元/美元"];
var changes = ["−0.005 (−0.01%)","−0.64 (−0.01%)","−0.035 (−0.05%)","+0.024 (+0.03%)","+0.00 (+0.00%)","−0.043 (−0.03%)","+0.00007 (+0.01%)","−0.00017 (−0.01%)","−0.00010 (−0.01%)"];
var digits = [3,2,3,3,2,3,5,5,5];
var priceTicks = [[100,99.8,99.4],[4450,4400,4350,4300],[67,66,65,64],[84,82,80,78],[89,88,86,85],[159.5,159,158.5,158,157.5],[1.1575,1.155,1.1525],[1.355,1.35,1.3475],[.71,.706,.704]];
var timeLabels = [["08–13 07:00"],["21:00","08–14 07:00"],["08–11 19:00","08–14 17:00"],["08–10 19:00","08–14 04:00"],["08–13 22:00"],["08–10 10:00","08–13 23:00"],["08–11 05:00","08–14 15:00"],["08–11 10:00","08–14 17:00"],["08–12 04:00","08–14 16:00"]];
var icons = [["us"],["gold"],["silver"],["oil"],["oil"],["jp","us"],["us","eu"],["us","gb"],["us","au"]];

// candle positions for labels and grid lines, in candle numbers
var labelIdx = [[25],[3.3,55.1],[15.9,83.3],[10,88.2],[61],[7.6,92.1],[22.8,105],[21.9,100.8],[11,71]];
var gridIdx = [[23,47],[8,31,54],[3,26,49,72],[20,43,66,89],[5,26,47,68],[2,26,50,74,98],[22.7,46.8,70.9,94.9],[17,41,65,89],[12,36,60]];

// layout: x of first and last candle, two reference prices and their y
var xSpan = [[17.2,813.4],[1080.3,1894.4],[2155.7,2988.4],[7.6,854],[1082.4,1911],[2159.2,3010.5],[5.5,858.2],[1082.4,1931.6],[2161.2,2978.8]];
var ySpan = [[113.6,539.6],[54.5,522.1],[25.3,420.5],[632.2,1030.6],[649.3,1077.3],[673.5,1068],[1329.4,1623.1],[1325.5,1697.8],[1230.2,1731.3]];
var yPrices = [[100,99.4],[4450,4300],[67,64],[84,78],[89,85],[159.5,157.5],[1.1575,1.1525],[1.355,1.3475],[.71,.704]];

// the reference font sets the long symbol names narrower
var mark1Width = [281,374,374,339,339,374,374,374,374];
var mark2Width = [308,308,308,288,370,306,306,306,306];

var colLeft = [4,1078,2152], colRight = [1070,2144.5,3220], plotRight = [940,2013.5,3089];
var rowTop = [0.5,608,1215.5], rowBottom = [600,1208,1816], axisY = [542,1150,1758.5];

var width = 3224, height = 1820;
var upColor = "#F23645", downColor = "#089981", lineColor = "#E0E3EB", textColor = "#131722";

var svg = d3.select("body")
.append("svg")
.attr("width", width)
.attr("height", height)
.attr("id","svg");

svg.append("rect").attr("width",width).attr("height",height).attr("fill",lineColor);

allOhlc.forEach(function(rows, p){ drawPanel(rows, p); });

// selected panel outline
svg.append("rect")
.attr("x",5).attr("y",1.5)
.attr("width",1065).attr("height",597)
.attr("rx",6)
.attr("fill","none")
.attr("stroke","#FF7043")
.attr("stroke-width",5);

// brand mark, lower left panel
svg.append("text")
.attr("x",24).attr("y",1724)
.attr("font-size",41).attr("font-weight","bold")
.attr("fill","#ABABAB")
.text("TradingHero");

// dx list that pulls in the glyph after each "1", the reference has a narrow one
function tight(str, k, first){
    return str.split("").map(function(c,i){
        if (i == 0) return first || 0;
        return str[i-1] == "1" ? -k : 0;
    }).join(" ");
}

// dx list that widens the slash in the pair names
function wideSlash(str){
    return str.split("").map(function(c,i){
        if (c == "/" || (i > 0 && str[i-1] == "/")) return 4;
        return 0;
    }).join(" ");
}

function drawPanel(rows, p){
    var col = p%3, row = Math.floor(p/3);
    var left = colLeft[col], right = colRight[col], pr = plotRight[col];
    var top = rowTop[row], bottom = rowBottom[row], ay = axisY[row];
    var last = rows[rows.length-1];
    var fmt = d3.format("."+digits[p]+"f");
    var closeColor = last[3] >= last[0] ? upColor : downColor;

    var x = d3.scaleLinear().domain([0,rows.length-1]).range(xSpan[p]);
    var y = d3.scaleLinear().domain(yPrices[p]).range(ySpan[p]);
    var step = x(1)-x(0);
    var bodyW = step >= 8 ? 6 : 5;

    var g = svg.append("g").attr("class","panel");
    g.append("rect")
    .attr("x",left).attr("y",top)
    .attr("width",right-left).attr("height",bottom-top)
    .attr("fill","#fff");

    var plotClip = "plot"+p, priceClip = "price"+p, timeClip = "time"+p;
    var defs = g.append("defs");
    defs.append("clipPath").attr("id",plotClip).append("rect")
    .attr("x",left).attr("y",top).attr("width",pr-left).attr("height",ay-top);
    defs.append("clipPath").attr("id",priceClip).append("rect")
    .attr("x",pr).attr("y",top).attr("width",right-pr).attr("height",ay-top);
    defs.append("clipPath").attr("id",timeClip).append("rect")
    .attr("x",left).attr("y",ay).attr("width",pr-left).attr("height",bottom-ay);

    // watermark
    var mx = (left+pr)/2;
    g.append("text").attr("x",mx).attr("y",top+235).attr("dy",".35em")
    .attr("text-anchor","middle").attr("font-size",76)
    .attr("textLength",mark1Width[p]).attr("lengthAdjust","spacingAndGlyphs")
    .attr("fill","#787B86").attr("fill-opacity",.17).text(marks1[p]);
    g.append("text").attr("x",mx).attr("y",top+347).attr("dy",".35em")
    .attr("text-anchor","middle").attr("font-size",76)
    .attr("textLength",mark2Width[p]).attr("lengthAdjust","spacingAndGlyphs")
    .attr("fill","#787B86").attr("fill-opacity",.17).text(marks2[p]);

    // vertical grid
    g.selectAll(".grid")
    .data(gridIdx[p])
    .enter().append("line")
    .attr("class","grid")
    .attr("x1",function(d){ return x(d); })
    .attr("x2",function(d){ return x(d); })
    .attr("y1",top+12).attr("y2",ay)
    .attr("stroke",lineColor).attr("stroke-width",2)
    .attr("stroke-dasharray","12 8");

    var plot = g.append("g").attr("clip-path","url(#"+plotClip+")");
    var candle = plot.selectAll(".candle")
    .data(rows)
    .enter().append("g")
    .attr("class","candle")
    .attr("fill",function(d){ return d[3] >= d[0] ? upColor : downColor; });
    candle.append("rect")
    .attr("x",function(d,i){ return Math.round(x(i))-1; })
    .attr("width",2)
    .attr("y",function(d){ return y(d[1]); })
    .attr("height",function(d){ return Math.max(1,y(d[2])-y(d[1])); });
    candle.append("rect")
    .attr("x",function(d,i){ return Math.round(x(i))-Math.floor(bodyW/2); })
    .attr("width",bodyW)
    .attr("y",function(d){ return y(Math.max(d[0],d[3])); })
    .attr("height",function(d){ return Math.max(2,Math.abs(y(d[0])-y(d[3]))); });

    // last price line
    plot.append("line")
    .attr("x1",left).attr("x2",pr)
    .attr("y1",y(last[3])).attr("y2",y(last[3]))
    .attr("stroke",closeColor).attr("stroke-width",2)
    .attr("stroke-dasharray","2 4");

    // axis frame
    g.append("line").attr("x1",left).attr("x2",right).attr("y1",ay).attr("y2",ay)
    .attr("stroke",lineColor).attr("stroke-width",2);
    g.append("line").attr("x1",pr).attr("x2",pr).attr("y1",top).attr("y2",bottom)
    .attr("stroke",lineColor).attr("stroke-width",2);

    // price axis
    var priceAxis = d3.axisRight(y).tickValues(priceTicks[p]).tickFormat(fmt).tickSize(0);
    var pa = g.append("g").attr("clip-path","url(#"+priceClip+")")
    .append("g").attr("transform","translate("+pr+",0)").call(priceAxis);
    pa.select(".domain").remove();
    pa.attr("font-family",null);
    pa.selectAll("text")
    .attr("x",65).attr("text-anchor","middle")
    .attr("font-size",25)
    .attr("fill",textColor)
    .attr("dx",function(){ return tight(d3.select(this).text(),4); });

    // time axis
    var timeAxis = d3.axisBottom(x)
    .tickValues(labelIdx[p])
    .tickFormat(function(d,i){ return timeLabels[p][i]; })
    .tickSize(0).tickPadding(22);
    var ta = g.append("g").attr("clip-path","url(#"+timeClip+")")
    .append("g").attr("transform","translate(0,"+ay+")").call(timeAxis);
    ta.select(".domain").remove();
    ta.attr("font-family",null);
    ta.selectAll("text").attr("font-size",25).attr("fill",textColor)
    .attr("dx",function(){ return tight(d3.select(this).text(),4); });

    // auto scale button
    g.append("ellipse").attr("cx",pr+65).attr("cy",ay+31).attr("rx",19.5).attr("ry",20.5).attr("fill",lineColor);
    g.append("text").attr("x",pr+65).attr("y",ay+31).attr("dy",".36em")
    .attr("text-anchor","middle").attr("font-size",25).attr("fill",textColor).text("A");

    // last price tag
    var cy = y(last[3]);
    g.append("rect").attr("x",pr).attr("y",cy-22).attr("width",right-pr).attr("height",86).attr("fill",closeColor);
    g.append("line").attr("x1",pr).attr("x2",right).attr("y1",cy+21).attr("y2",cy+21)
    .attr("stroke","#fff").attr("stroke-opacity",.3).attr("stroke-width",1.5);
    g.append("text").attr("x",pr+65).attr("y",cy).attr("dy",".36em")
    .attr("dx",tight(fmt(last[3]),4))
    .attr("text-anchor","middle").attr("font-size",25).attr("fill","#fff").text(fmt(last[3]));
    g.append("text").attr("x",pr+65).attr("y",cy+42).attr("dy",".36em")
    .attr("text-anchor","middle").attr("font-size",25).attr("fill","#fff").attr("fill-opacity",.7).text("00:00:00");

    // header: values row with a veil under it
    var veil = g.append("rect").attr("y",top+54).attr("height",33).attr("fill","#fff").attr("fill-opacity",.6);
    var ohlc = g.append("text").attr("x",left+22).attr("y",top+68).attr("dy",".36em").attr("font-size",29);
    var names = ["开=","高=","低=","收="];
    names.forEach(function(n,k){
        ohlc.append("tspan").attr("dx",k ? 14 : 0).attr("fill",textColor).text(n);
        ohlc.append("tspan").attr("fill",closeColor).attr("dx",tight(fmt(last[k]),4.7)).text(fmt(last[k]));
    });
    ohlc.append("tspan").attr("fill",closeColor).attr("dx",tight(changes[p],4.7,14)).text(changes[p]);
    var ow = ohlc.node().getComputedTextLength();
    veil.attr("x",left+22).attr("width",ow+12);

    // header: title row
    var icx = left+36.5, icy = top+27.5;
    if (icons[p].length == 1){
        drawIcon(g, icons[p][0], icx, icy, 20, p+"a", 1);
    } else {
        drawIcon(g, icons[p][0], icx+7, icy-7, 14, p+"a", .65);
        drawIcon(g, icons[p][1], icx-7.5, icy+7, 15, p+"b", 1);
    }
    var title = g.append("text").attr("x",left+65).attr("y",top+27.5).attr("dy",".36em")
    .attr("dx",wideSlash(titles[p]))
    .attr("font-size",29).attr("fill","#000").text(titles[p]);
    var tEnd = left+65+title.node().getComputedTextLength();
    g.append("rect").attr("x",tEnd+12).attr("y",top+10).attr("width",56).attr("height",36).attr("rx",14).attr("fill","#EFF0FA");
    g.append("rect").attr("x",tEnd+30).attr("y",top+23).attr("width",20).attr("height",10).attr("rx",5).attr("fill","#9E9E9E");
}

function drawIcon(parent, kind, cx, cy, r, id, alpha){
    var clip = "ic"+id;
    parent.append("clipPath").attr("id",clip).append("circle").attr("cx",cx).attr("cy",cy).attr("r",r);
    var g = parent.append("g").attr("clip-path","url(#"+clip+")").attr("opacity",alpha);
    function box(x0,y0,w,h,c){ return g.append("rect").attr("x",cx+x0*r).attr("y",cy+y0*r).attr("width",w*r).attr("height",h*r).attr("fill",c); }
    function dot(x0,y0,s,c){ return g.append("circle").attr("cx",cx+x0*r).attr("cy",cy+y0*r).attr("r",s*r).attr("fill",c); }
    var k;
    if (kind == "us"){
        box(-1,-1,2,2,"#fff");
        for (k=0;k<7;k++) box(-1,-1+k*2/6.5,2,2/13,"#C8102E");
        box(-1,-1,1,1.05,"#3C3B6E");
    } else if (kind == "gold"){
        box(-1,-1,2,2,"#F0C040");
        box(-.2,-.45,.4,.4,"#fff");
        box(-.48,.05,.42,.4,"#fff");
        box(.06,.05,.42,.4,"#fff");
    } else if (kind == "silver"){
        box(-1,-1,2,2,"#6A8FE0");
        for (k=0;k<4;k++){
            g.append("line")
            .attr("x1",cx+(-.55+k*.25)*r).attr("y1",cy+(.1+k*.1-.3)*r)
            .attr("x2",cx+(-.1+k*.25)*r).attr("y2",cy+(.5+k*.1-.9)*r)
            .attr("stroke","#fff").attr("stroke-width",r*.12);
        }
    } else if (kind == "oil"){
        box(-1,-1,2,2,"#2AA8CC");
        box(-.42,-.5,.84,1,"#fff").attr("rx",r*.12);
        dot(0,.1,.17,"#2AA8CC");
        g.append("path")
        .attr("d","M"+cx+","+(cy-.28*r)+"L"+(cx+.15*r)+","+(cy+.03*r)+"L"+(cx-.15*r)+","+(cy+.03*r)+"Z")
        .attr("fill","#2AA8CC");
    } else if (kind == "jp"){
        box(-1,-1,2,2,"#fff");
        dot(.2,-.1,.62,"#BC002D");
    } else if (kind == "eu"){
        box(-1,-1,2,2,"#1E3A8A");
        for (k=0;k<12;k++) dot(.62*Math.cos(k*Math.PI/6),.62*Math.sin(k*Math.PI/6),.07,"#FFCC00");
    } else if (kind == "gb"){
        box(-1,-1,2,2,"#1E3A8A");
        [[-1,-1,1,1],[-1,1,1,-1]].forEach(function(l){
            g.append("line").attr("x1",cx+l[0]*r).attr("y1",cy+l[1]*r).attr("x2",cx+l[2]*r).attr("y2",cy+l[3]*r)
            .attr("stroke","#fff").attr("stroke-width",r*.35);
            g.append("line").attr("x1",cx+l[0]*r).attr("y1",cy+l[1]*r).attr("x2",cx+l[2]*r).attr("y2",cy+l[3]*r)
            .attr("stroke","#D8232F").attr("stroke-width",r*.14);
        });
        box(-1,-.3,2,.6,"#fff"); box(-.3,-1,.6,2,"#fff");
        box(-1,-.17,2,.34,"#D8232F"); box(-.17,-1,.34,2,"#D8232F");
    } else if (kind == "au"){
        box(-1,-1,2,2,"#1B2A80");
        box(-1,-.6,1,.14,"#fff"); box(-.55,-1,.14,1,"#fff");
        box(-1,-.57,1,.08,"#D8232F"); box(-.52,-1,.08,1,"#D8232F");
        dot(-.4,.5,.13,"#fff"); dot(.5,-.4,.08,"#fff"); dot(.7,.1,.08,"#fff"); dot(.4,.5,.08,"#fff");
    }
}
</script>
</body>
</html>
